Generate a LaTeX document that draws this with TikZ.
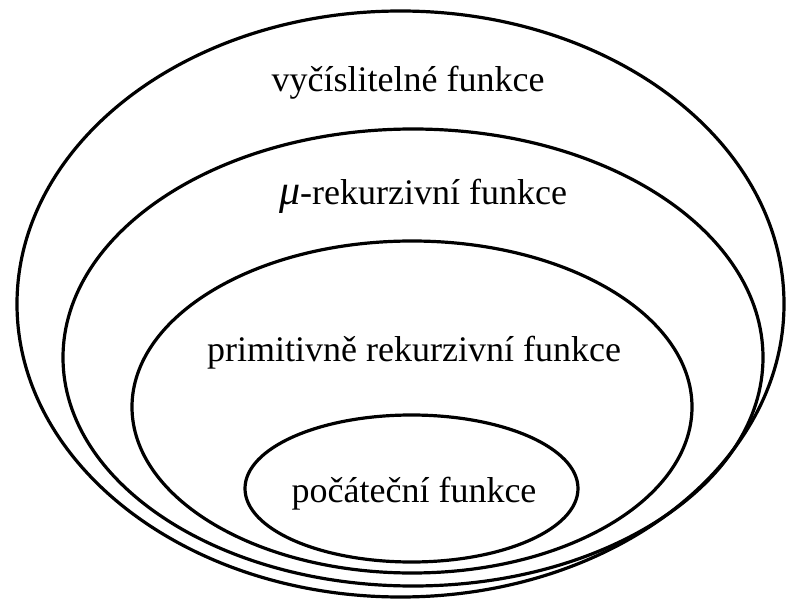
\documentclass[tikz,border=0pt]{standalone}
\usepackage{fontspec}
\setmainfont{Liberation Serif}
\begin{document}
\begin{tikzpicture}[x=1pt,y=-1pt,
  setline/.style={draw=black,line width=3.2pt},
  setlabel/.style={anchor=base,inner sep=0pt,font=\fontsize{36}{40}\selectfont}]
\useasboundingbox (0,0) rectangle (788,599);
\draw[setline] (400.5,304) ellipse [x radius=383.5, y radius=293];
\draw[setline] (413,357.5) ellipse [x radius=350, y radius=228.5];
\draw[setline] (412,407) ellipse [x radius=280, y radius=166];
\draw[setline] (411.5,488.5) ellipse [x radius=166.5, y radius=73.5];
\node[setlabel] (vyc) at (408,92) {vyčíslitelné funkce};
\node[setlabel] (mu) at (423,205) {{\itshape\fontsize{42}{44}\selectfont μ}-rekurzivní funkce};
\node[setlabel] (prim) at (414,361) {primitivně rekurzivní funkce};
\node[setlabel] (poc) at (414,502) {počáteční funkce};
\end{tikzpicture}
\end{document}
